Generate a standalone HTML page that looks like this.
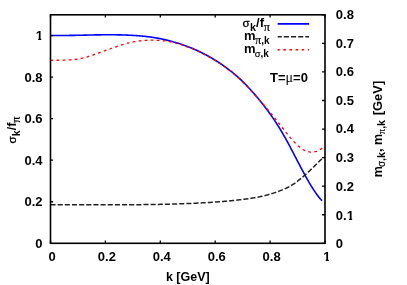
<!DOCTYPE html>
<html><head><meta charset="utf-8"><title>plot</title>
<style>
html,body{margin:0;padding:0;background:#fff;}
body{width:407px;height:285px;overflow:hidden;font-family:"Liberation Sans",sans-serif;}
svg{display:block}
text{font-family:"Liberation Sans",sans-serif;font-weight:bold;font-size:12px;fill:#000;}
svg{will-change:transform}
.sy{font-family:"Liberation Serif",serif;font-weight:normal;}
.sg{font-family:"Liberation Sans",sans-serif;font-weight:normal;}
</style></head><body>
<svg width="407" height="285" viewBox="0 0 407 285">
<rect x="0" y="0" width="407" height="285" fill="#fff"/>
<path d="M50.50,35.46 L51.18,35.47 L51.86,35.48 L52.54,35.48 L53.22,35.49 L53.90,35.50 L54.58,35.50 L55.26,35.51 L55.94,35.51 L56.62,35.51 L57.30,35.51 L57.98,35.52 L58.67,35.52 L59.35,35.51 L60.03,35.51 L60.71,35.51 L61.39,35.51 L62.07,35.50 L62.75,35.50 L63.43,35.50 L64.11,35.49 L64.79,35.48 L65.47,35.48 L66.15,35.47 L66.83,35.46 L67.51,35.45 L68.19,35.44 L68.87,35.43 L69.55,35.42 L70.23,35.41 L70.91,35.40 L71.59,35.39 L72.27,35.38 L72.95,35.37 L73.64,35.36 L74.32,35.34 L75.00,35.33 L75.68,35.32 L76.36,35.30 L77.04,35.29 L77.72,35.28 L78.40,35.26 L79.08,35.25 L79.76,35.23 L80.44,35.22 L81.12,35.20 L81.80,35.19 L82.48,35.18 L83.16,35.16 L83.84,35.15 L84.52,35.13 L85.20,35.12 L85.88,35.10 L86.56,35.09 L87.24,35.07 L87.92,35.06 L88.61,35.04 L89.29,35.03 L89.97,35.02 L90.65,35.00 L91.33,34.99 L92.01,34.97 L92.69,34.96 L93.37,34.95 L94.05,34.94 L94.73,34.92 L95.41,34.91 L96.09,34.90 L96.77,34.89 L97.45,34.88 L98.13,34.87 L98.81,34.86 L99.49,34.85 L100.17,34.84 L100.85,34.83 L101.53,34.82 L102.21,34.82 L102.89,34.81 L103.58,34.80 L104.26,34.80 L104.94,34.79 L105.62,34.79 L106.30,34.78 L106.98,34.78 L107.66,34.78 L108.34,34.78 L109.02,34.78 L109.70,34.78 L110.38,34.78 L111.06,34.78 L111.74,34.78 L112.42,34.78 L113.10,34.79 L113.78,34.79 L114.46,34.80 L115.14,34.81 L115.82,34.82 L116.50,34.82 L117.18,34.83 L117.86,34.85 L118.55,34.86 L119.23,34.87 L119.91,34.89 L120.59,34.90 L121.27,34.92 L121.95,34.94 L122.63,34.95 L123.31,34.97 L123.99,35.00 L124.67,35.02 L125.35,35.04 L126.03,35.07 L126.71,35.09 L127.39,35.12 L128.07,35.15 L128.75,35.18 L129.43,35.21 L130.11,35.25 L130.79,35.28 L131.47,35.32 L132.15,35.35 L132.83,35.39 L133.52,35.43 L134.20,35.48 L134.88,35.52 L135.56,35.57 L136.24,35.61 L136.92,35.66 L137.60,35.71 L138.28,35.76 L138.96,35.82 L139.64,35.87 L140.32,35.93 L141.00,35.99 L141.68,36.05 L142.36,36.11 L143.04,36.18 L143.72,36.24 L144.40,36.31 L145.08,36.38 L145.76,36.46 L146.44,36.53 L147.12,36.61 L147.80,36.69 L148.48,36.77 L149.17,36.85 L149.85,36.94 L150.53,37.03 L151.21,37.12 L151.89,37.22 L152.57,37.32 L153.25,37.42 L153.93,37.52 L154.61,37.63 L155.29,37.74 L155.97,37.85 L156.65,37.97 L157.33,38.09 L158.01,38.21 L158.69,38.34 L159.37,38.46 L160.05,38.60 L160.73,38.73 L161.41,38.87 L162.09,39.02 L162.77,39.16 L163.45,39.31 L164.14,39.47 L164.82,39.63 L165.50,39.79 L166.18,39.95 L166.86,40.12 L167.54,40.29 L168.22,40.46 L168.90,40.64 L169.58,40.82 L170.26,41.00 L170.94,41.18 L171.62,41.37 L172.30,41.56 L172.98,41.75 L173.66,41.95 L174.34,42.15 L175.02,42.35 L175.70,42.55 L176.38,42.75 L177.06,42.96 L177.74,43.17 L178.42,43.38 L179.11,43.60 L179.79,43.82 L180.47,44.04 L181.15,44.26 L181.83,44.49 L182.51,44.72 L183.19,44.95 L183.87,45.18 L184.55,45.42 L185.23,45.67 L185.91,45.91 L186.59,46.16 L187.27,46.41 L187.95,46.67 L188.63,46.93 L189.31,47.20 L189.99,47.46 L190.67,47.73 L191.35,48.01 L192.03,48.29 L192.71,48.57 L193.39,48.86 L194.08,49.15 L194.76,49.44 L195.44,49.74 L196.12,50.04 L196.80,50.35 L197.48,50.66 L198.16,50.98 L198.84,51.29 L199.52,51.62 L200.20,51.94 L200.88,52.27 L201.56,52.61 L202.24,52.95 L202.92,53.29 L203.60,53.64 L204.28,53.99 L204.96,54.34 L205.64,54.70 L206.32,55.06 L207.00,55.43 L207.68,55.80 L208.36,56.18 L209.05,56.56 L209.73,56.95 L210.41,57.34 L211.09,57.73 L211.77,58.13 L212.45,58.53 L213.13,58.94 L213.81,59.35 L214.49,59.76 L215.17,60.18 L215.85,60.61 L216.53,61.03 L217.21,61.47 L217.89,61.91 L218.57,62.35 L219.25,62.79 L219.93,63.25 L220.61,63.70 L221.29,64.16 L221.97,64.63 L222.65,65.10 L223.33,65.57 L224.02,66.05 L224.70,66.54 L225.38,67.02 L226.06,67.52 L226.74,68.02 L227.42,68.52 L228.10,69.03 L228.78,69.54 L229.46,70.06 L230.14,70.58 L230.82,71.11 L231.50,71.65 L232.18,72.20 L232.86,72.75 L233.54,73.30 L234.22,73.87 L234.90,74.44 L235.58,75.02 L236.26,75.60 L236.94,76.20 L237.62,76.80 L238.30,77.41 L238.98,78.03 L239.67,78.66 L240.35,79.29 L241.03,79.93 L241.71,80.59 L242.39,81.25 L243.07,81.91 L243.75,82.59 L244.43,83.27 L245.11,83.96 L245.79,84.65 L246.47,85.36 L247.15,86.07 L247.83,86.79 L248.51,87.51 L249.19,88.24 L249.87,88.98 L250.55,89.72 L251.23,90.48 L251.91,91.23 L252.59,92.00 L253.27,92.77 L253.95,93.55 L254.64,94.33 L255.32,95.12 L256.00,95.92 L256.68,96.73 L257.36,97.54 L258.04,98.35 L258.72,99.17 L259.40,100.00 L260.08,100.84 L260.76,101.68 L261.44,102.53 L262.12,103.38 L262.80,104.24 L263.48,105.11 L264.16,105.98 L264.84,106.86 L265.52,107.75 L266.20,108.64 L266.88,109.55 L267.56,110.46 L268.24,111.38 L268.92,112.31 L269.61,113.25 L270.29,114.20 L270.97,115.15 L271.65,116.12 L272.33,117.10 L273.01,118.09 L273.69,119.09 L274.37,120.10 L275.05,121.12 L275.73,122.15 L276.41,123.19 L277.09,124.25 L277.77,125.32 L278.45,126.40 L279.13,127.50 L279.81,128.60 L280.49,129.72 L281.17,130.86 L281.85,132.00 L282.53,133.17 L283.21,134.34 L283.89,135.53 L284.58,136.74 L285.26,137.95 L285.94,139.18 L286.62,140.42 L287.30,141.67 L287.98,142.92 L288.66,144.19 L289.34,145.46 L290.02,146.74 L290.70,148.03 L291.38,149.33 L292.06,150.62 L292.74,151.92 L293.42,153.23 L294.10,154.54 L294.78,155.85 L295.46,157.16 L296.14,158.47 L296.82,159.78 L297.50,161.08 L298.18,162.39 L298.86,163.69 L299.55,164.99 L300.23,166.29 L300.91,167.58 L301.59,168.86 L302.27,170.14 L302.95,171.41 L303.63,172.67 L304.31,173.93 L304.99,175.17 L305.67,176.41 L306.35,177.63 L307.03,178.84 L307.71,180.04 L308.39,181.22 L309.07,182.39 L309.75,183.54 L310.43,184.68 L311.11,185.80 L311.79,186.91 L312.47,187.99 L313.15,189.06 L313.83,190.10 L314.52,191.13 L315.20,192.13 L315.88,193.11 L316.56,194.07 L317.24,195.01 L317.92,195.92 L318.60,196.80 L319.28,197.66 L319.96,198.49 L320.64,199.29 L321.32,200.07 L322.00,200.81" fill="none" stroke="#0000ff" stroke-width="1.6" stroke-linejoin="round"/>
<path d="M50.50,204.69 L51.18,204.69 L51.87,204.68 L52.55,204.68 L53.24,204.68 L53.92,204.68 L54.60,204.68 L55.29,204.68 L55.97,204.68 L56.66,204.68 L57.34,204.68 L58.02,204.67 L58.71,204.67 L59.39,204.67 L60.08,204.67 L60.76,204.67 L61.44,204.67 L62.13,204.67 L62.81,204.67 L63.50,204.67 L64.18,204.67 L64.86,204.67 L65.55,204.68 L66.23,204.68 L66.92,204.68 L67.60,204.68 L68.28,204.68 L68.97,204.68 L69.65,204.68 L70.33,204.68 L71.02,204.68 L71.70,204.68 L72.39,204.68 L73.07,204.69 L73.75,204.69 L74.44,204.69 L75.12,204.69 L75.81,204.69 L76.49,204.69 L77.17,204.69 L77.86,204.70 L78.54,204.70 L79.23,204.70 L79.91,204.70 L80.59,204.70 L81.28,204.70 L81.96,204.71 L82.65,204.71 L83.33,204.71 L84.01,204.71 L84.70,204.71 L85.38,204.71 L86.07,204.72 L86.75,204.72 L87.43,204.72 L88.12,204.72 L88.80,204.72 L89.49,204.73 L90.17,204.73 L90.85,204.73 L91.54,204.73 L92.22,204.73 L92.91,204.73 L93.59,204.74 L94.27,204.74 L94.96,204.74 L95.64,204.74 L96.33,204.74 L97.01,204.74 L97.69,204.75 L98.38,204.75 L99.06,204.75 L99.75,204.75 L100.43,204.75 L101.11,204.75 L101.80,204.75 L102.48,204.75 L103.16,204.76 L103.85,204.76 L104.53,204.76 L105.22,204.76 L105.90,204.76 L106.58,204.76 L107.27,204.76 L107.95,204.76 L108.64,204.76 L109.32,204.76 L110.00,204.76 L110.69,204.76 L111.37,204.76 L112.06,204.76 L112.74,204.76 L113.42,204.76 L114.11,204.76 L114.79,204.76 L115.48,204.76 L116.16,204.76 L116.84,204.76 L117.53,204.76 L118.21,204.76 L118.90,204.76 L119.58,204.76 L120.26,204.75 L120.95,204.75 L121.63,204.75 L122.32,204.75 L123.00,204.75 L123.68,204.75 L124.37,204.74 L125.05,204.74 L125.74,204.74 L126.42,204.74 L127.10,204.73 L127.79,204.73 L128.47,204.73 L129.16,204.72 L129.84,204.72 L130.52,204.72 L131.21,204.71 L131.89,204.71 L132.58,204.70 L133.26,204.70 L133.94,204.70 L134.63,204.69 L135.31,204.69 L135.99,204.68 L136.68,204.68 L137.36,204.67 L138.05,204.67 L138.73,204.66 L139.41,204.65 L140.10,204.65 L140.78,204.64 L141.47,204.63 L142.15,204.63 L142.83,204.62 L143.52,204.61 L144.20,204.61 L144.89,204.60 L145.57,204.59 L146.25,204.58 L146.94,204.57 L147.62,204.56 L148.31,204.56 L148.99,204.55 L149.67,204.54 L150.36,204.53 L151.04,204.52 L151.73,204.51 L152.41,204.50 L153.09,204.49 L153.78,204.48 L154.46,204.46 L155.15,204.45 L155.83,204.44 L156.51,204.43 L157.20,204.42 L157.88,204.40 L158.57,204.39 L159.25,204.38 L159.93,204.36 L160.62,204.35 L161.30,204.34 L161.99,204.32 L162.67,204.31 L163.35,204.29 L164.04,204.28 L164.72,204.26 L165.41,204.25 L166.09,204.23 L166.77,204.22 L167.46,204.20 L168.14,204.18 L168.83,204.16 L169.51,204.15 L170.19,204.13 L170.88,204.11 L171.56,204.09 L172.24,204.07 L172.93,204.05 L173.61,204.03 L174.30,204.01 L174.98,203.99 L175.66,203.97 L176.35,203.95 L177.03,203.93 L177.72,203.91 L178.40,203.89 L179.08,203.87 L179.77,203.84 L180.45,203.82 L181.14,203.80 L181.82,203.77 L182.50,203.75 L183.19,203.72 L183.87,203.70 L184.56,203.67 L185.24,203.65 L185.92,203.62 L186.61,203.60 L187.29,203.57 L187.98,203.54 L188.66,203.51 L189.34,203.49 L190.03,203.46 L190.71,203.43 L191.40,203.40 L192.08,203.37 L192.76,203.34 L193.45,203.31 L194.13,203.28 L194.82,203.25 L195.50,203.22 L196.18,203.18 L196.87,203.15 L197.55,203.12 L198.24,203.08 L198.92,203.05 L199.60,203.02 L200.29,202.98 L200.97,202.95 L201.66,202.91 L202.34,202.87 L203.02,202.84 L203.71,202.80 L204.39,202.76 L205.07,202.72 L205.76,202.68 L206.44,202.64 L207.13,202.60 L207.81,202.56 L208.49,202.52 L209.18,202.48 L209.86,202.43 L210.55,202.39 L211.23,202.35 L211.91,202.30 L212.60,202.26 L213.28,202.21 L213.97,202.16 L214.65,202.11 L215.33,202.07 L216.02,202.02 L216.70,201.97 L217.39,201.92 L218.07,201.87 L218.75,201.81 L219.44,201.76 L220.12,201.71 L220.81,201.65 L221.49,201.60 L222.17,201.54 L222.86,201.48 L223.54,201.43 L224.23,201.37 L224.91,201.31 L225.59,201.25 L226.28,201.19 L226.96,201.13 L227.65,201.06 L228.33,201.00 L229.01,200.94 L229.70,200.87 L230.38,200.80 L231.07,200.74 L231.75,200.67 L232.43,200.60 L233.12,200.53 L233.80,200.46 L234.49,200.39 L235.17,200.31 L235.85,200.24 L236.54,200.16 L237.22,200.09 L237.91,200.01 L238.59,199.93 L239.27,199.85 L239.96,199.77 L240.64,199.69 L241.32,199.61 L242.01,199.53 L242.69,199.44 L243.38,199.36 L244.06,199.27 L244.74,199.18 L245.43,199.09 L246.11,199.00 L246.80,198.91 L247.48,198.81 L248.16,198.72 L248.85,198.62 L249.53,198.52 L250.22,198.42 L250.90,198.32 L251.58,198.21 L252.27,198.10 L252.95,197.99 L253.64,197.88 L254.32,197.76 L255.00,197.65 L255.69,197.53 L256.37,197.40 L257.06,197.28 L257.74,197.15 L258.42,197.01 L259.11,196.88 L259.79,196.74 L260.48,196.59 L261.16,196.45 L261.84,196.30 L262.53,196.14 L263.21,195.99 L263.90,195.83 L264.58,195.66 L265.26,195.49 L265.95,195.32 L266.63,195.14 L267.32,194.96 L268.00,194.77 L268.68,194.58 L269.37,194.38 L270.05,194.18 L270.74,193.98 L271.42,193.77 L272.10,193.56 L272.79,193.34 L273.47,193.12 L274.15,192.89 L274.84,192.66 L275.52,192.43 L276.21,192.19 L276.89,191.95 L277.57,191.70 L278.26,191.44 L278.94,191.19 L279.63,190.92 L280.31,190.66 L280.99,190.38 L281.68,190.11 L282.36,189.83 L283.05,189.54 L283.73,189.25 L284.41,188.95 L285.10,188.65 L285.78,188.35 L286.47,188.03 L287.15,187.71 L287.83,187.38 L288.52,187.04 L289.20,186.68 L289.89,186.31 L290.57,185.92 L291.25,185.52 L291.94,185.10 L292.62,184.67 L293.31,184.22 L293.99,183.76 L294.67,183.28 L295.36,182.80 L296.04,182.30 L296.73,181.79 L297.41,181.28 L298.09,180.75 L298.78,180.21 L299.46,179.67 L300.15,179.12 L300.83,178.56 L301.51,177.99 L302.20,177.42 L302.88,176.84 L303.57,176.26 L304.25,175.67 L304.93,175.07 L305.62,174.46 L306.30,173.85 L306.98,173.24 L307.67,172.61 L308.35,171.98 L309.04,171.35 L309.72,170.71 L310.40,170.06 L311.09,169.40 L311.77,168.75 L312.46,168.08 L313.14,167.41 L313.82,166.73 L314.51,166.05 L315.19,165.37 L315.88,164.68 L316.56,163.99 L317.24,163.30 L317.93,162.61 L318.61,161.93 L319.30,161.26 L319.98,160.60 L320.66,159.96 L321.35,159.33 L322.03,158.72 L322.72,158.13 L323.40,157.56" fill="none" stroke="#222" stroke-width="1.5" stroke-dasharray="5.1 2.05" stroke-linejoin="round"/>
<path d="M50.50,60.33 L51.18,60.31 L51.86,60.30 L52.55,60.29 L53.23,60.27 L53.91,60.26 L54.59,60.26 L55.27,60.25 L55.95,60.24 L56.64,60.24 L57.32,60.23 L58.00,60.22 L58.68,60.22 L59.36,60.21 L60.04,60.20 L60.73,60.20 L61.41,60.19 L62.09,60.18 L62.77,60.16 L63.45,60.15 L64.13,60.13 L64.82,60.12 L65.50,60.09 L66.18,60.07 L66.86,60.04 L67.54,60.01 L68.22,59.98 L68.91,59.94 L69.59,59.90 L70.27,59.86 L70.95,59.81 L71.63,59.76 L72.31,59.70 L73.00,59.64 L73.68,59.57 L74.36,59.49 L75.04,59.41 L75.72,59.33 L76.40,59.24 L77.09,59.14 L77.77,59.04 L78.45,58.93 L79.13,58.81 L79.81,58.68 L80.49,58.55 L81.18,58.42 L81.86,58.27 L82.54,58.12 L83.22,57.96 L83.90,57.79 L84.59,57.61 L85.27,57.43 L85.95,57.24 L86.63,57.04 L87.31,56.84 L87.99,56.62 L88.68,56.41 L89.36,56.19 L90.04,55.96 L90.72,55.74 L91.40,55.50 L92.08,55.27 L92.77,55.04 L93.45,54.80 L94.13,54.57 L94.81,54.33 L95.49,54.09 L96.17,53.85 L96.86,53.61 L97.54,53.37 L98.22,53.13 L98.90,52.89 L99.58,52.65 L100.26,52.41 L100.95,52.17 L101.63,51.92 L102.31,51.68 L102.99,51.44 L103.67,51.19 L104.35,50.95 L105.04,50.71 L105.72,50.46 L106.40,50.22 L107.08,49.97 L107.76,49.73 L108.44,49.48 L109.13,49.23 L109.81,48.99 L110.49,48.74 L111.17,48.50 L111.85,48.25 L112.54,48.01 L113.22,47.77 L113.90,47.52 L114.58,47.28 L115.26,47.04 L115.94,46.80 L116.63,46.57 L117.31,46.33 L117.99,46.10 L118.67,45.87 L119.35,45.65 L120.03,45.42 L120.72,45.20 L121.40,44.98 L122.08,44.77 L122.76,44.56 L123.44,44.35 L124.12,44.15 L124.81,43.95 L125.49,43.76 L126.17,43.57 L126.85,43.39 L127.53,43.21 L128.21,43.03 L128.90,42.87 L129.58,42.70 L130.26,42.55 L130.94,42.39 L131.62,42.25 L132.30,42.11 L132.99,41.97 L133.67,41.84 L134.35,41.71 L135.03,41.59 L135.71,41.48 L136.39,41.37 L137.08,41.26 L137.76,41.16 L138.44,41.06 L139.12,40.97 L139.80,40.89 L140.48,40.81 L141.17,40.73 L141.85,40.66 L142.53,40.59 L143.21,40.53 L143.89,40.48 L144.58,40.42 L145.26,40.38 L145.94,40.33 L146.62,40.30 L147.30,40.26 L147.98,40.23 L148.67,40.21 L149.35,40.19 L150.03,40.17 L150.71,40.16 L151.39,40.16 L152.07,40.15 L152.76,40.16 L153.44,40.16 L154.12,40.17 L154.80,40.19 L155.48,40.21 L156.16,40.23 L156.85,40.26 L157.53,40.30 L158.21,40.34 L158.89,40.38 L159.57,40.43 L160.25,40.48 L160.94,40.54 L161.62,40.60 L162.30,40.66 L162.98,40.74 L163.66,40.81 L164.34,40.89 L165.03,40.98 L165.71,41.07 L166.39,41.17 L167.07,41.27 L167.75,41.38 L168.43,41.49 L169.12,41.61 L169.80,41.73 L170.48,41.86 L171.16,41.99 L171.84,42.13 L172.53,42.27 L173.21,42.42 L173.89,42.58 L174.57,42.74 L175.25,42.90 L175.93,43.07 L176.62,43.25 L177.30,43.43 L177.98,43.62 L178.66,43.81 L179.34,44.01 L180.02,44.22 L180.71,44.43 L181.39,44.64 L182.07,44.86 L182.75,45.08 L183.43,45.31 L184.11,45.55 L184.80,45.79 L185.48,46.03 L186.16,46.28 L186.84,46.53 L187.52,46.79 L188.20,47.05 L188.89,47.32 L189.57,47.59 L190.25,47.87 L190.93,48.15 L191.61,48.43 L192.29,48.72 L192.98,49.01 L193.66,49.31 L194.34,49.61 L195.02,49.92 L195.70,50.22 L196.38,50.54 L197.07,50.85 L197.75,51.17 L198.43,51.49 L199.11,51.82 L199.79,52.15 L200.47,52.49 L201.16,52.82 L201.84,53.16 L202.52,53.51 L203.20,53.85 L203.88,54.20 L204.57,54.55 L205.25,54.91 L205.93,55.27 L206.61,55.63 L207.29,56.00 L207.97,56.37 L208.66,56.74 L209.34,57.12 L210.02,57.50 L210.70,57.88 L211.38,58.27 L212.06,58.66 L212.75,59.06 L213.43,59.46 L214.11,59.86 L214.79,60.27 L215.47,60.69 L216.15,61.10 L216.84,61.53 L217.52,61.96 L218.20,62.39 L218.88,62.83 L219.56,63.27 L220.24,63.72 L220.93,64.18 L221.61,64.63 L222.29,65.10 L222.97,65.57 L223.65,66.05 L224.33,66.53 L225.02,67.02 L225.70,67.51 L226.38,68.01 L227.06,68.52 L227.74,69.03 L228.42,69.55 L229.11,70.08 L229.79,70.61 L230.47,71.15 L231.15,71.70 L231.83,72.25 L232.52,72.81 L233.20,73.38 L233.88,73.96 L234.56,74.54 L235.24,75.13 L235.92,75.73 L236.61,76.33 L237.29,76.94 L237.97,77.56 L238.65,78.19 L239.33,78.82 L240.01,79.47 L240.70,80.11 L241.38,80.77 L242.06,81.43 L242.74,82.09 L243.42,82.77 L244.10,83.45 L244.79,84.13 L245.47,84.82 L246.15,85.52 L246.83,86.22 L247.51,86.92 L248.19,87.63 L248.88,88.35 L249.56,89.07 L250.24,89.79 L250.92,90.52 L251.60,91.25 L252.28,91.99 L252.97,92.73 L253.65,93.47 L254.33,94.22 L255.01,94.97 L255.69,95.73 L256.37,96.49 L257.06,97.25 L257.74,98.02 L258.42,98.78 L259.10,99.56 L259.78,100.33 L260.46,101.11 L261.15,101.89 L261.83,102.67 L262.51,103.46 L263.19,104.25 L263.87,105.04 L264.56,105.84 L265.24,106.63 L265.92,107.44 L266.60,108.24 L267.28,109.04 L267.96,109.85 L268.65,110.67 L269.33,111.48 L270.01,112.30 L270.69,113.12 L271.37,113.95 L272.05,114.77 L272.74,115.61 L273.42,116.44 L274.10,117.28 L274.78,118.12 L275.46,118.97 L276.14,119.82 L276.83,120.67 L277.51,121.53 L278.19,122.39 L278.87,123.25 L279.55,124.12 L280.23,124.99 L280.92,125.87 L281.60,126.75 L282.28,127.62 L282.96,128.50 L283.64,129.37 L284.32,130.24 L285.01,131.11 L285.69,131.98 L286.37,132.83 L287.05,133.69 L287.73,134.53 L288.41,135.37 L289.10,136.19 L289.78,137.01 L290.46,137.82 L291.14,138.61 L291.82,139.39 L292.51,140.16 L293.19,140.91 L293.87,141.65 L294.55,142.36 L295.23,143.06 L295.91,143.75 L296.60,144.41 L297.28,145.05 L297.96,145.67 L298.64,146.26 L299.32,146.84 L300.00,147.38 L300.69,147.90 L301.37,148.40 L302.05,148.86 L302.73,149.30 L303.41,149.71 L304.09,150.08 L304.78,150.43 L305.46,150.74 L306.14,151.02 L306.82,151.27 L307.50,151.49 L308.18,151.67 L308.87,151.83 L309.55,151.95 L310.23,152.03 L310.91,152.09 L311.59,152.11 L312.27,152.10 L312.96,152.06 L313.64,151.98 L314.32,151.87 L315.00,151.73 L315.68,151.55 L316.36,151.34 L317.05,151.10 L317.73,150.82 L318.41,150.50 L319.09,150.16 L319.77,149.77 L320.45,149.36 L321.14,148.91 L321.82,148.42 L322.50,147.90" fill="none" stroke="#ff0000" stroke-width="1.3" stroke-dasharray="2.8 3.26" stroke-dashoffset="0" stroke-linejoin="round"/>
<rect x="50.5" y="14.8" width="274.5" height="228.5" fill="none" stroke="#000" stroke-width="1.6"/>
<path d="M50.50,243.3 v-2.8 M50.50,14.8 v2.8 M50.5,243.30 h2.6 M105.40,243.3 v-2.8 M105.40,14.8 v2.8 M50.5,201.75 h2.6 M160.30,243.3 v-2.8 M160.30,14.8 v2.8 M50.5,160.21 h2.6 M215.20,243.3 v-2.8 M215.20,14.8 v2.8 M50.5,118.66 h2.6 M270.10,243.3 v-2.8 M270.10,14.8 v2.8 M50.5,77.12 h2.6 M325.00,243.3 v-2.8 M325.00,14.8 v2.8 M50.5,35.57 h2.6 M325.0,243.30 h-3 M325.0,214.74 h-3 M325.0,186.18 h-3 M325.0,157.61 h-3 M325.0,129.05 h-3 M325.0,100.49 h-3 M325.0,71.93 h-3 M325.0,43.36 h-3 M325.0,14.80 h-3" fill="none" stroke="#000" stroke-width="1.3"/>
<text x="52.00" y="261" text-anchor="middle" style="font-size:13px">0</text>
<text x="42.6" y="248" text-anchor="end" style="font-size:13px">0</text>
<text x="106.90" y="261" text-anchor="middle" style="font-size:13px">0.2</text>
<text x="42.6" y="206" text-anchor="end" style="font-size:13px">0.2</text>
<text x="161.80" y="261" text-anchor="middle" style="font-size:13px">0.4</text>
<text x="42.6" y="165" text-anchor="end" style="font-size:13px">0.4</text>
<text x="216.70" y="261" text-anchor="middle" style="font-size:13px">0.6</text>
<text x="42.6" y="123" text-anchor="end" style="font-size:13px">0.6</text>
<text x="271.60" y="261" text-anchor="middle" style="font-size:13px">0.8</text>
<text x="42.6" y="82" text-anchor="end" style="font-size:13px">0.8</text>
<text x="323.29" y="261" clip-path="url(#c1)" style="font-size:13px">1</text>
<text x="35.77" y="40" clip-path="url(#c2)" style="font-size:13px">1</text>
<text x="335.8" y="248" text-anchor="start" style="font-size:13px">0</text>
<text x="335.8" y="220" style="font-size:13px">0.</text>
<text x="346.64" y="220" clip-path="url(#c3)" style="font-size:13px">1</text>
<text x="335.8" y="191" text-anchor="start" style="font-size:13px">0.2</text>
<text x="335.8" y="162" text-anchor="start" style="font-size:13px">0.3</text>
<text x="335.8" y="133" text-anchor="start" style="font-size:13px">0.4</text>
<text x="335.8" y="105" text-anchor="start" style="font-size:13px">0.5</text>
<text x="335.8" y="76" text-anchor="start" style="font-size:13px">0.6</text>
<text x="335.8" y="48" text-anchor="start" style="font-size:13px">0.7</text>
<text x="335.8" y="19" text-anchor="start" style="font-size:13px">0.8</text>
<defs><clipPath id="c1"><rect x="322.29" y="249" width="9.23" height="10"/><rect x="325.72" y="258.9" width="3.09" height="3.1"/></clipPath><clipPath id="c2"><rect x="34.77" y="28" width="9.23" height="10"/><rect x="38.20" y="37.9" width="3.09" height="3.1"/></clipPath><clipPath id="c3"><rect x="345.64" y="208" width="9.23" height="10"/><rect x="349.07" y="217.9" width="3.09" height="3.1"/></clipPath></defs>
<text x="165.9" y="281" style="font-size:12.5px">k [GeV]</text>
<text transform="translate(15.7,143.6) rotate(-90)"><tspan class="sg" style="font-size:11.6px;stroke:#000;stroke-width:0.3px">σ</tspan><tspan dy="4.6" dx="0.3" style="font-size:10.5px">k</tspan><tspan dy="-4.6" style="font-size:12.5px">/f</tspan><tspan class="sy" dy="4.6" dx="-0.2" style="font-size:12.1px;stroke:#000;stroke-width:0.2px">π</tspan></text>
<text transform="translate(381.6,177.3) rotate(-90)"><tspan style="font-size:12.5px">m</tspan><tspan dy="3.7" style="font-size:10.6px"><tspan class="sg" dx="-0.9" style="font-size:10.0px;stroke:#000;stroke-width:0.15px">σ</tspan>,k</tspan><tspan dy="-3.7" style="font-size:12.5px">, </tspan><tspan style="font-size:12.5px">m</tspan><tspan dy="3.7" style="font-size:10.6px"><tspan class="sy" dx="-0.3" style="font-size:10.8px;stroke:#000;stroke-width:0.1px">π</tspan>,k</tspan><tspan dy="-3.7" dx="1.2" style="font-size:12.9px"> [GeV]</tspan></text>
<text x="242.6" y="27"><tspan class="sg" style="font-size:11.6px;stroke:#000;stroke-width:0.3px">σ</tspan><tspan dy="3.7" dx="0.3" style="font-size:10.8px">k</tspan><tspan dy="-3.7" style="font-size:13px">/f</tspan><tspan class="sy" dy="3.7" dx="-0.2" style="font-size:12.4px;stroke:#000;stroke-width:0.2px">π</tspan></text>
<text x="244.1" y="40"><tspan style="font-size:13px">m</tspan><tspan dy="3.8" style="font-size:10px"><tspan class="sy" dx="-0.3" style="font-size:11.6px;stroke:#000;stroke-width:0.2px">π</tspan>,k</tspan></text>
<text x="244.1" y="53"><tspan style="font-size:13px">m</tspan><tspan dy="3.8" style="font-size:10px"><tspan class="sg" dx="-0.9" style="font-size:9.4px;stroke:#000;stroke-width:0.15px">σ</tspan>,k</tspan></text>
<path d="M277.7,23.9 H309.1" stroke="#0000ff" stroke-width="1.7"/>
<path d="M277.7,36.8 H309.1" stroke="#222" stroke-width="1.5" stroke-dasharray="5.1 2.05" stroke-dashoffset="1"/>
<path d="M277.7,49.7 H309.1" stroke="#ff0000" stroke-width="1.4" stroke-dasharray="2.5 3.6" stroke-dashoffset="0.4"/>
<text x="270.0" y="82" style="font-size:13px">T=<tspan class="sy" style="font-size:14px">μ</tspan>=0</text>
</svg></body></html>
